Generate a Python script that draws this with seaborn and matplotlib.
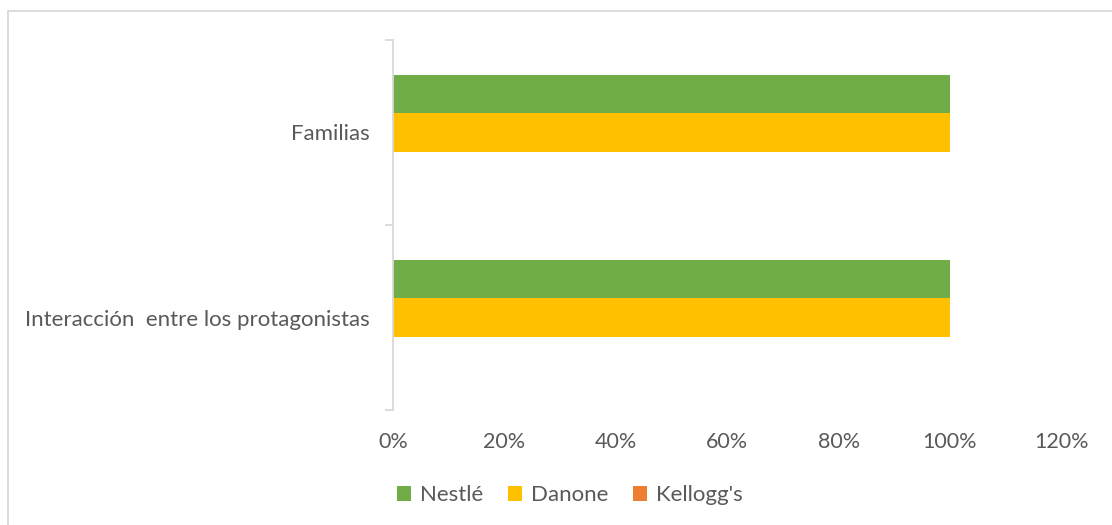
import matplotlib
matplotlib.use("Agg")
import matplotlib.pyplot as plt
from matplotlib.patches import Patch, Rectangle
import seaborn as sns
import pandas as pd

categories = ["Familias", "Interacción  entre los protagonistas"]
series = ["Nestlé", "Danone", "Kellogg's"]
nestle = [1.0, 1.0]
danone = [1.0, 1.0]
kelloggs = [0.0, 0.0]
xticks = [0, 0.2, 0.4, 0.6, 0.8, 1.0, 1.2]
xticklabels = ["0%", "20%", "40%", "60%", "80%", "100%", "120%"]
colors = ["#70AD47", "#FFC000", "#ED7D31"]

rows = []
for name, vals in zip(series, [nestle, danone, kelloggs]):
    for c, v in zip(categories, vals):
        rows.append({"cat": c, "serie": name, "val": v})
df = pd.DataFrame(rows)

sns.set_style("white")
plt.rcParams["font.family"] = ["Lato", "DejaVu Sans"]
txt = "#595959"

fig = plt.figure(figsize=(11.12, 5.25), dpi=100)
ax = fig.add_axes([393 / 1112, 1 - 410 / 525, (1061.4 - 393) / 1112, 370 / 525])

sns.barplot(data=df, y="cat", x="val", hue="serie", order=categories,
            hue_order=series, palette=colors, orient="h", width=0.625,
            gap=0, linewidth=0, saturation=1, legend=False, ax=ax)

ax.set_xlim(0, 1.2)
ax.set_ylim(1.5, -0.5)
ax.set_xticks(xticks)
ax.set_xticklabels(xticklabels)
ax.set_xlabel("")
ax.set_ylabel("")
ax.grid(False)
for s in ["top", "right", "bottom"]:
    ax.spines[s].set_visible(False)
ax.spines["left"].set_color("#D9D9D9")
ax.spines["left"].set_linewidth(1.3)
ax.tick_params(axis="x", length=0, pad=16, labelsize=15.5, labelcolor=txt)
ax.tick_params(axis="y", which="major", left=True, length=0, pad=17, labelsize=16, labelcolor=txt)
ax.set_yticks([-0.5, 0.5, 1.5], minor=True)
ax.tick_params(axis="y", which="minor", left=True, length=6, width=1.3,
               color="#D9D9D9", direction="out")

handles = [Patch(facecolor=c, edgecolor="none", label=s) for c, s in zip(colors, series)]
fig.legend(handles=handles, loc="center", bbox_to_anchor=(570 / 1112, 1 - 495 / 525),
           ncol=3, frameon=False, fontsize=16, labelcolor=txt,
           handlelength=0.65, handleheight=0.65, handletextpad=0.4, columnspacing=1.1)

fig.patches.append(Rectangle((8 / 1112, -0.1), 1.2, (525 - 11) / 525 + 0.1,
                             transform=fig.transFigure, fill=False,
                             edgecolor="#D9D9D9", linewidth=1.3))

fig.savefig("out.png", dpi=100)
